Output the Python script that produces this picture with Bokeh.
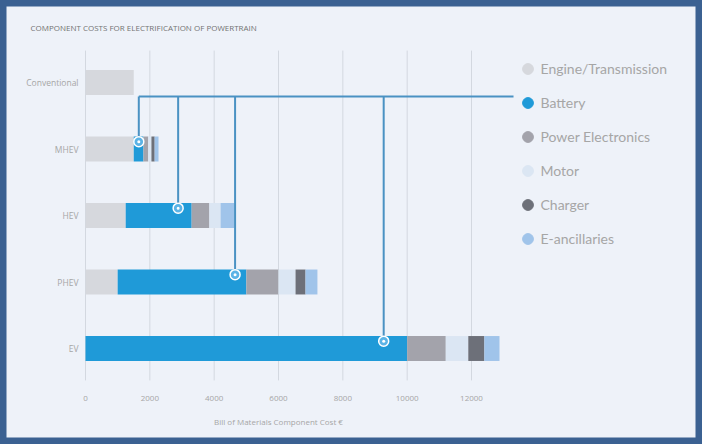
from bokeh.plotting import figure
from bokeh.models import ColumnDataSource, FixedTicker, Label, Legend, LegendItem
from bokeh.embed import file_html
from bokeh.resources import INLINE

# ---------------- data ----------------
categories = ["Conventional", "MHEV", "HEV", "PHEV", "EV"]
series = ["Engine/Transmission", "Battery", "Power Electronics", "Motor", "Charger", "E-ancillaries"]
engine = [1500, 1500, 1250, 1000, 0]
battery = [0, 300, 2050, 4000, 10000]
power_electronics = [0, 150, 550, 1000, 1200]
motor = [0, 100, 350, 530, 700]
charger = [0, 100, 0, 310, 500]
ancillaries = [0, 120, 430, 370, 470]
callout_x = [1657, 2880, 4650, 9270]          # MHEV, HEV, PHEV, EV battery callouts
x_ticks = [0, 2000, 4000, 6000, 8000, 10000, 12000]
title_text = "COMPONENT COSTS FOR ELECTRIFICATION OF POWERTRAIN"
x_label = "Bill of Materials Component Cost €"

# ---------------- style ----------------
BG = "#eef2f9"
BORDER = "#3b6192"
COLORS = ["#d6d8dd", "#1f9ad8", "#a3a3ab", "#dbe6f3", "#6d7079", "#a0c4ea"]
LINE_BLUE = "#4a92c3"
FONT = "Open Sans"
NAN = float("nan")

ys = [len(categories) - 1 - i for i in range(len(categories))]
cols = [engine, battery, power_electronics, motor, charger, ancillaries]
keys = ["s%d" % i for i in range(len(series))]
data = {"y": ys}
for k, c in zip(keys, cols):
    data[k] = c
source = ColumnDataSource(data)

p = figure(width=702, height=444, x_range=(-2642.5, 19181), y_range=(-1.4436, 5.2331),
           output_backend="svg", toolbar_location=None, title=None, min_border=0,
           background_fill_color=BG, border_fill_color=BG)
p.xgrid.visible = False
p.ygrid.visible = False
p.outline_line_color = BORDER
p.outline_line_width = 12

# grid lines
grid_top, grid_bottom = 4.48, -0.48
p.segment(x0=x_ticks, x1=x_ticks, y0=[grid_bottom] * len(x_ticks), y1=[grid_top] * len(x_ticks),
          line_color="#d3d8e0", line_width=1)

# stacked bars
p.hbar_stack(keys, y="y", height=0.375, fill_color=COLORS, line_color=None, source=source)

# callouts
line_y = 3.789
legend_x = 13306
callout_y = [y + 0.11 for y in ys[1:]]
p.segment(x0=callout_x, x1=callout_x, y0=[line_y] * len(callout_x), y1=callout_y,
          line_color=LINE_BLUE, line_width=2)
p.segment(x0=[callout_x[0]], x1=[legend_x], y0=[line_y], y1=[line_y],
          line_color=LINE_BLUE, line_width=2)
p.scatter(x=callout_x, y=callout_y, marker="circle", size=10, fill_color="#5bb3e6",
          line_color="white", line_width=1.5)
p.scatter(x=callout_x, y=callout_y, marker="circle", size=3, fill_color="white", line_color=None)

# legend
leg_renderers = [p.scatter(x=[NAN], y=[NAN], marker="circle", fill_color=c, line_color=c) for c in COLORS]
legend = Legend(items=[LegendItem(label=s, renderers=[r]) for s, r in zip(series, leg_renderers)],
                location=(513.5, 192.5), orientation="vertical",
                glyph_width=27, glyph_height=27, label_height=27, spacing=7,
                padding=0, margin=0, label_standoff=0,
                border_line_color=None, background_fill_alpha=0,
                label_text_font="Lato", label_text_font_size="14px", label_text_color="#a6a6a6")
p.add_layout(legend)

# axes
xa = p.xaxis[0]
xa.fixed_location = -0.6015
xa.bounds = (0, 12000)
xa.ticker = FixedTicker(ticks=x_ticks)
xa.axis_line_color = None
xa.major_tick_line_color = None
xa.minor_tick_line_color = None
xa.major_tick_out = 0
xa.major_tick_in = 0
xa.minor_tick_out = 0
xa.major_label_standoff = 7
xa.major_label_text_font = FONT
xa.major_label_text_font_size = "8px"
xa.major_label_text_color = "#a6a6a6"
xa.axis_label = x_label
xa.axis_label_standoff = 12
xa.axis_label_text_font = FONT
xa.axis_label_text_font_size = "8px"
xa.axis_label_text_font_style = "normal"
xa.axis_label_text_color = "#a6a6a6"

ya = p.yaxis[0]
ya.fixed_location = -155
ya.ticker = FixedTicker(ticks=ys)
ya.major_label_overrides = {y: c for y, c in zip(ys, categories)}
ya.axis_line_color = None
ya.major_tick_line_color = None
ya.minor_tick_line_color = None
ya.major_tick_out = 0
ya.major_tick_in = 0
ya.minor_tick_out = 0
ya.major_label_standoff = 2
ya.major_label_text_font = FONT
ya.major_label_text_font_size = "8.5px"
ya.major_label_text_color = "#a6a6a6"

# title
p.add_layout(Label(x=30, y=417, x_units="screen", y_units="screen", text=title_text,
                   text_font=FONT, text_font_size="8px", text_color="#737373",
                   text_baseline="middle"))

open("out.html", "w").write(file_html(p, INLINE))
